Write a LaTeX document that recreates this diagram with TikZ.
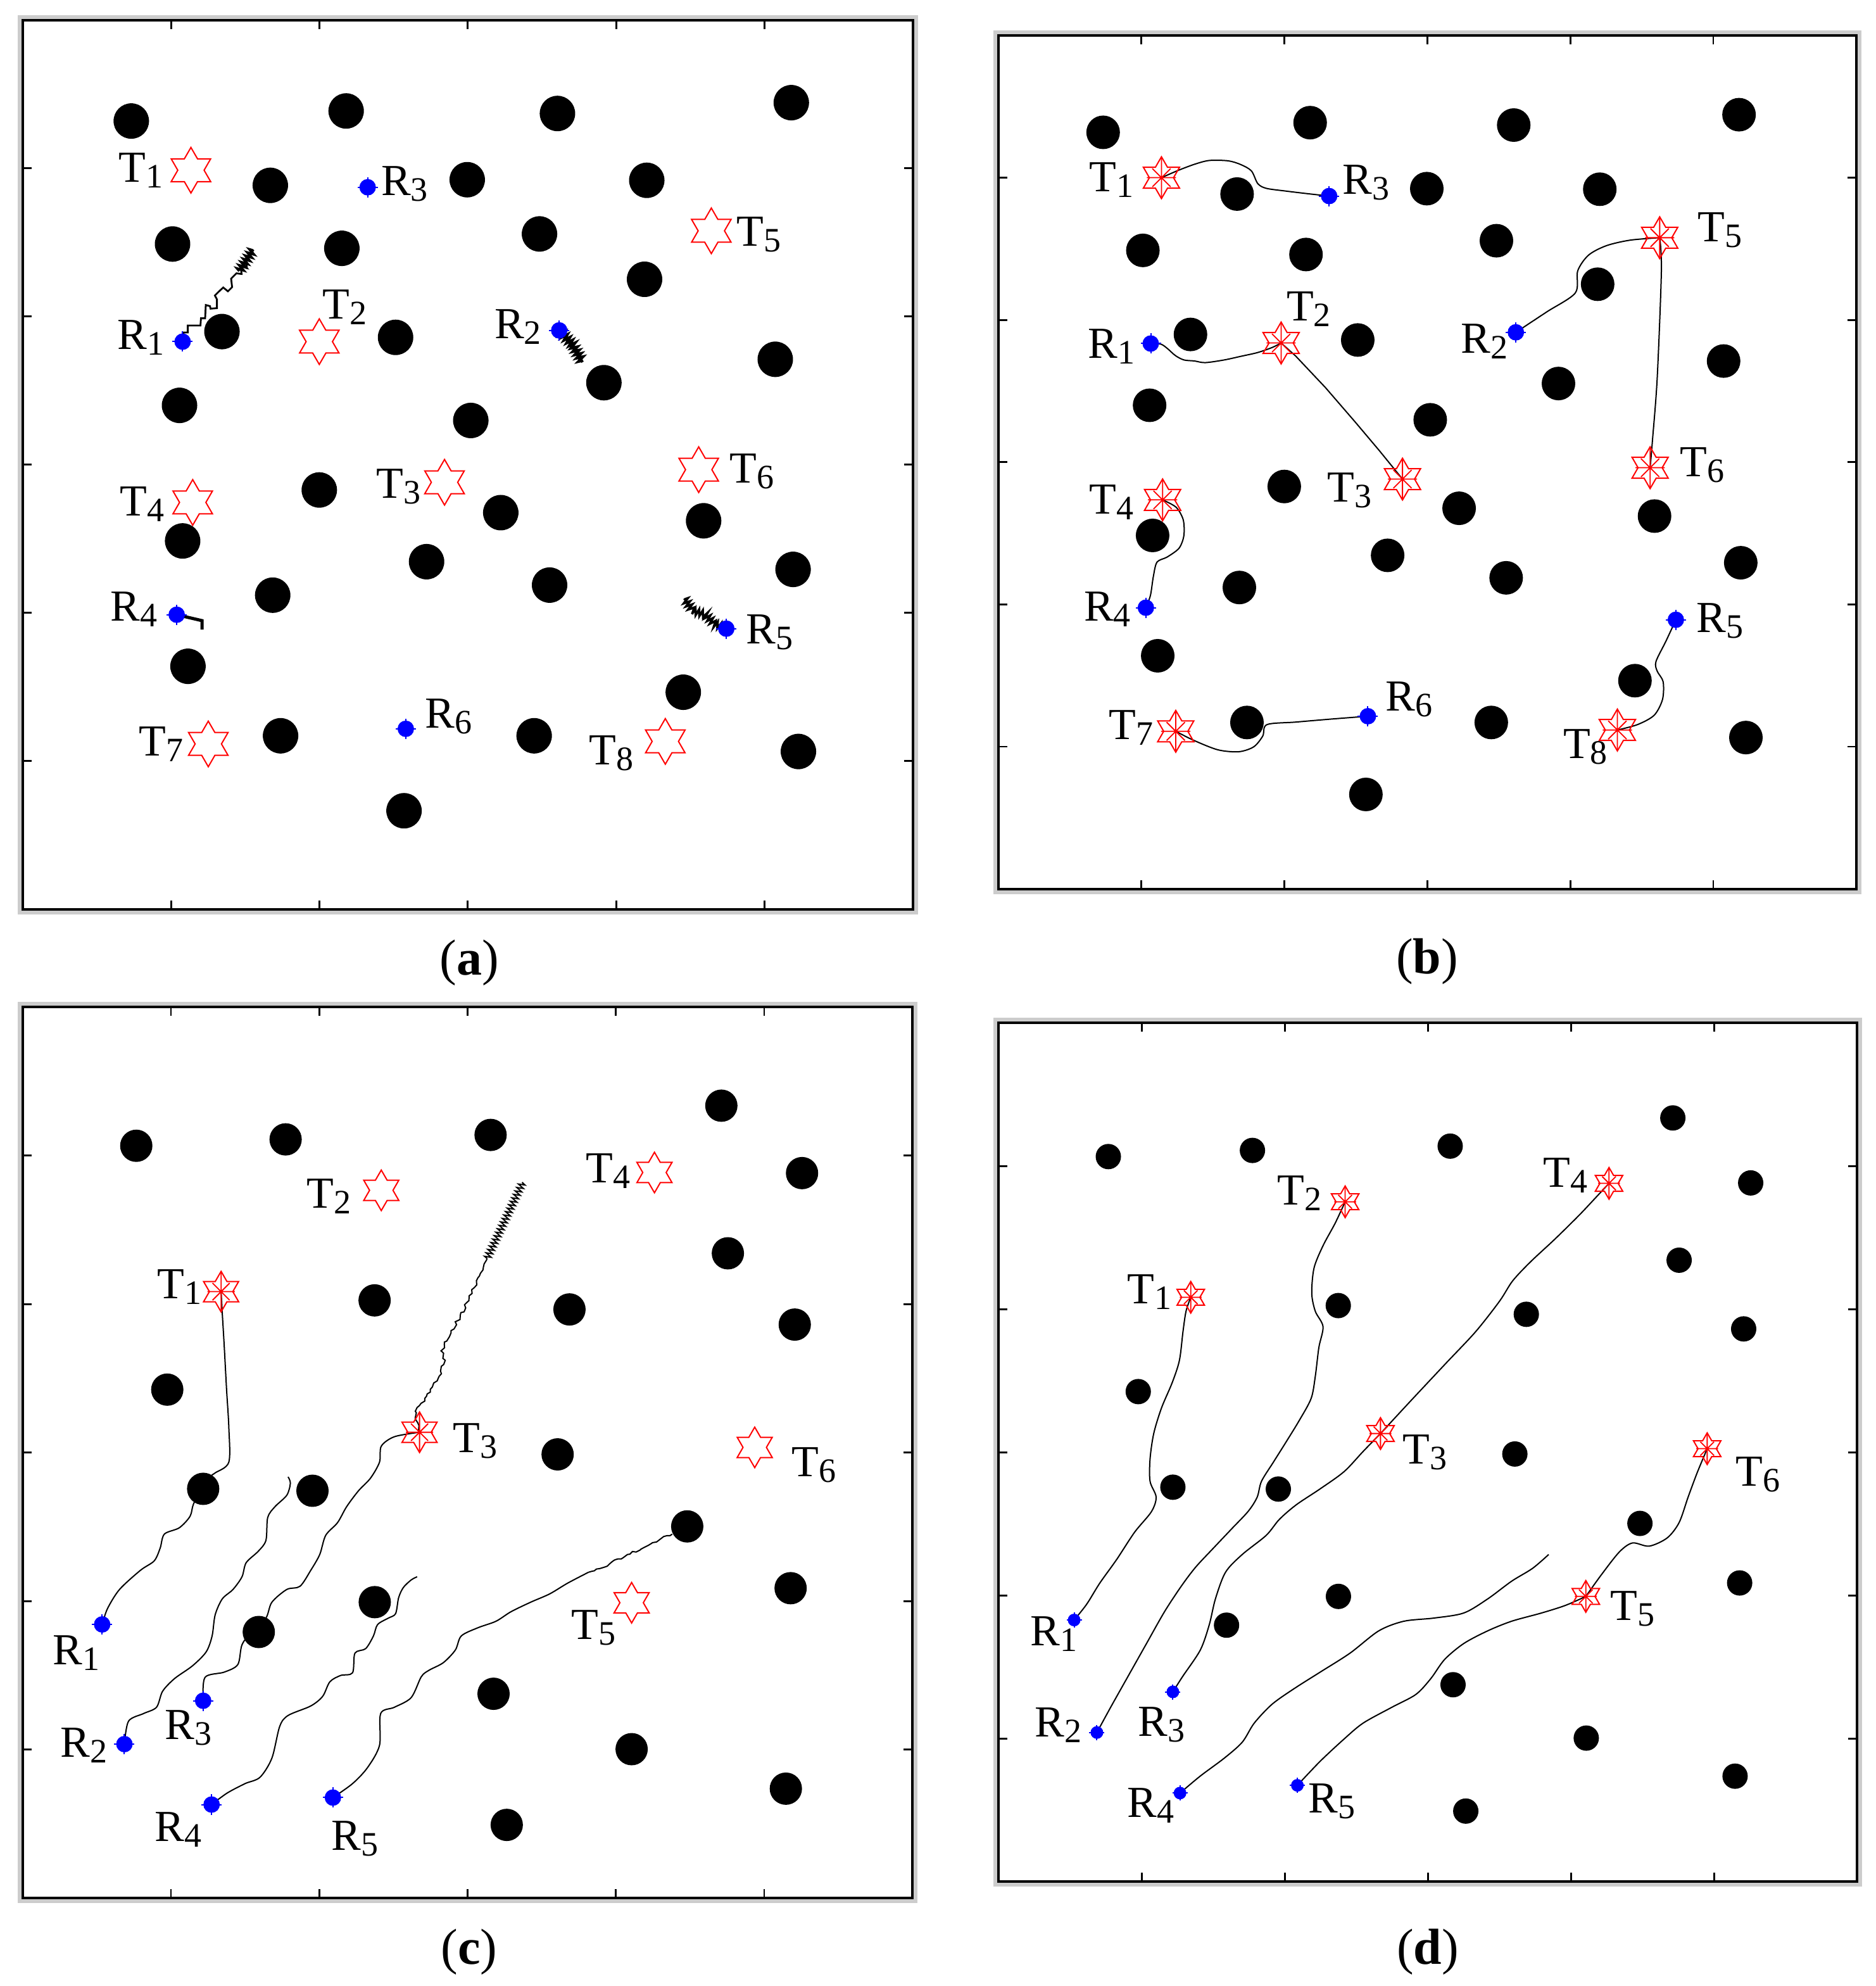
\documentclass[tikz,border=0pt]{standalone}
\usepackage{fontspec}
\setmainfont{Liberation Serif}
\usetikzlibrary{shapes.geometric,decorations.pathmorphing}
\pgfdeclarelayer{bg}
\pgfsetlayers{bg,main}
\newcommand\TS[2]{#1\raisebox{-4.5pt}{\fontsize{27}{27}\selectfont #2}}
\newcommand\astk[2]{%
 \draw[red,line width=0.9pt] ([yshift=#2*1pt]#1.center) -- ([yshift=-#2*1pt]#1.center)
   ([xshift=0.72*#2*1pt]#1.center) -- ([xshift=-0.72*#2*1pt]#1.center)
   ([shift={(0.45*#2*1pt,0.45*#2*1pt)}]#1.center) -- ([shift={(-0.45*#2*1pt,-0.45*#2*1pt)}]#1.center)
   ([shift={(-0.45*#2*1pt,0.45*#2*1pt)}]#1.center) -- ([shift={(0.45*#2*1pt,-0.45*#2*1pt)}]#1.center);}
\newcommand\spk[2]{%
 \draw[blue,line width=1pt] ([yshift=#2*1pt]#1.center) -- ([yshift=-#2*1pt]#1.center)
   ([xshift=#2*1pt]#1.center) -- ([xshift=-#2*1pt]#1.center);}
\tikzset{
 obs/.style={circle, fill=black, inner sep=0pt, minimum size=#1},
 tgt/.style={star, star points=6, star point ratio=1.732, draw=red, line width=1pt, inner sep=0pt, minimum size=#1},
 rob/.style={circle, fill=blue, inner sep=0pt, minimum size=#1},
 trail/.style={draw=black, line width=1pt},
 jag/.style={draw=black, line width=#1, decorate, decoration={zigzag, amplitude=2.5pt, segment length=3pt}},
 rnd/.style={draw=black, line width=1pt, decorate, decoration={random steps, amplitude=#1, segment length=2.5pt}},
 lab/.style={inner sep=0pt, font=\fontsize{35}{40}\selectfont},
 captxt/.style={inner sep=0pt, font=\fontsize{40}{48}\selectfont},
 frm/.style={draw=black, line width=2pt},
 tickmk/.style={draw=black, line width=1.4pt},
}
\newcommand\panelframe{%
 \begin{pgfonlayer}{bg}
 \draw[black!20, line width=8pt] (0,0) rectangle (6,6);
 \fill[white] (0,0) rectangle (6,6);
 \draw[frm] (0,0) rectangle (6,6);
 \foreach \k in {1,...,5}{
   \draw[tickmk] (\k,0) -- ++(0pt,-7pt);
   \draw[tickmk] (\k,6) -- ++(0pt,7pt);
   \draw[tickmk] (0,\k) -- ++(7pt,0pt);
   \draw[tickmk] (6,\k) -- ++(-7pt,0pt);}
 \end{pgfonlayer}}
\def\obsAB{0.732/0.681, 2.180/0.613, 3.604/0.630, 5.180/0.557, 1.669/1.115, 2.996/1.077, 4.206/1.081, 1.010/1.511, 2.151/1.540, 3.483/1.443, 4.191/1.749, 1.343/2.102, 2.513/2.141, 3.917/2.447, 5.072/2.289, 1.057/2.600, 3.020/2.702, 1.999/3.171, 3.222/3.324, 4.589/3.379, 1.078/3.515, 2.722/3.655, 1.685/3.881, 3.551/3.813, 5.192/3.707, 1.114/4.361, 4.452/4.536, 1.738/4.830, 3.447/4.830, 5.228/4.936, 2.570/5.336}
\def\obsCD{0.766/0.934, 1.773/0.891, 3.155/0.861, 4.711/0.664, 5.255/1.118, 4.755/1.658, 2.373/1.975, 3.687/2.036, 5.206/2.138, 0.975/2.576, 3.607/3.012, 1.217/3.244, 1.954/3.257, 4.481/3.497, 5.178/3.913, 2.374/4.007, 1.592/4.208, 3.175/4.624, 4.106/4.997, 5.146/5.263, 3.264/5.507}
\begin{document}
\begin{tikzpicture}[x=1pt,y=-1pt]
\pgfmathsetseed{7}
\useasboundingbox (0,0) rectangle (1481,1568);
\begin{pgfonlayer}{bg}
\fill[white] (0,0) rectangle (1481,1568);
\end{pgfonlayer}

% ---------------- panel (a)
\begin{scope}[shift={(17.9pt,-15.9pt)}, x=117.18pt, y=-116.98pt]
\panelframe
\foreach \u/\v [count=\i] in \obsAB {\node[obs=28pt] (aO\i) at (\u,\v) {};}
\node[tgt=36pt] (aT1) at (1.134,1.013) {};
\node[tgt=36pt] (aT2) at (1.999,2.170) {};
\node[tgt=36pt] (aT3) at (2.843,3.119) {};
\node[tgt=36pt] (aT4) at (1.146,3.255) {};
\node[tgt=36pt] (aT5) at (4.641,1.422) {};
\node[tgt=36pt] (aT6) at (4.556,3.034) {};
\node[tgt=36pt] (aT7) at (1.251,4.885) {};
\node[tgt=36pt] (aT8) at (4.331,4.868) {};
\node[rob=13pt] (aR1) at (1.078,2.170) {};
\node[rob=13pt] (aR2) at (3.616,2.094) {};
\node[rob=13pt] (aR3) at (2.325,1.128) {};
\node[rob=13pt] (aR4) at (1.038,4.013) {};
\node[rob=13pt] (aR5) at (4.742,4.107) {};
\node[rob=13pt] (aR6) at (2.582,4.783) {};
\end{scope}
\foreach \n in {aR1,aR2,aR3,aR4,aR5,aR6}{\spk{\n}{8}}
\begin{pgfonlayer}{bg}
\draw[trail, line width=1.4pt] (aR1.center) -- (145,262.5) -- (148.3,262.5) -- (148.3,257) -- (158.3,257) -- (158.7,251.3) -- (162,251.3) -- (162.5,240.8) -- (165.8,241.7) -- (166.3,243.7) -- (171.3,243.3) -- (171.3,236.3) -- (169.7,233.3) -- (173,230) -- (176.3,227) -- (180,230) -- (183.3,226.7) -- (182.5,220) -- (186.7,215.8) -- (190.8,216.3) -- (190,210) -- (195,211.7) -- (194.2,204.2) -- (199.2,197.5);
\draw[jag=2pt] (189,214) -- (200,197);
\draw[jag=2.2pt] (aR2.center) -- (452,272) -- (460,286);
\draw[trail, line width=2.5pt] (aR4.center) -- (159.5,490) -- (159.5,497);
\draw[jag=1.8pt] (aR5.center) -- (563.9,492.5) -- (556.8,485) -- (547.4,482.5) -- (540.3,472.5);
\end{pgfonlayer}
\node[lab] (aLT1) at (111.2,134.4) {\TS{T}{1}};
\node[lab] (aLR3) at (319.5,145.3) {\TS{R}{3}};
\node[lab] (aLT5) at (599.4,185.2) {\TS{T}{5}};
\node[lab] (aLT2) at (272.4,242.4) {\TS{T}{2}};
\node[lab] (aLR1) at (111.2,266.3) {\TS{R}{1}};
\node[lab] (aLR2) at (409,257.8) {\TS{R}{2}};
\node[lab] (aLT6) at (593.8,372.3) {\TS{T}{6}};
\node[lab] (aLT4) at (112.2,398.2) {\TS{T}{4}};
\node[lab] (aLT3) at (314.8,384.3) {\TS{T}{3}};
\node[lab] (aLR4) at (105.6,480.8) {\TS{R}{4}};
\node[lab] (aLR5) at (607.9,499.3) {\TS{R}{5}};
\node[lab] (aLR6) at (354.4,565.5) {\TS{R}{6}};
\node[lab] (aLT7) at (127.2,587.4) {\TS{T}{7}};
\node[lab] (aLT8) at (482.6,594.8) {\TS{T}{8}};
\node[captxt] (capa) at (370.5,760) {(\textbf{a})};

% ---------------- panel (b)
\begin{scope}[shift={(788.5pt,-28pt)}, x=112.9pt, y=-112.3pt]
\panelframe
\foreach \u/\v [count=\i] in \obsAB {\node[obs=26.5pt] (bO\i) at (\u,\v) {};}
\node[tgt=33pt] (bT1) at (1.140,1.000) {};
\node[tgt=33pt] (bT2) at (1.977,2.162) {};
\node[tgt=33pt] (bT3) at (2.826,3.119) {};
\node[tgt=33pt] (bT4) at (1.148,3.265) {};
\node[tgt=33pt] (bT5) at (4.625,1.422) {};
\node[tgt=33pt] (bT6) at (4.558,3.039) {};
\node[tgt=33pt] (bT7) at (1.240,4.892) {};
\node[tgt=33pt] (bT8) at (4.329,4.883) {};
\node[rob=13pt] (bR1) at (1.065,2.166) {};
\node[rob=13pt] (bR2) at (3.619,2.087) {};
\node[rob=13pt] (bR3) at (2.313,1.129) {};
\node[rob=13pt] (bR4) at (1.031,4.023) {};
\node[rob=13pt] (bR5) at (4.738,4.108) {};
\node[rob=13pt] (bR6) at (2.584,4.786) {};
\end{scope}
\foreach \n in {bT1,bT2,bT3,bT4,bT5,bT6,bT7,bT8}{\astk{\n}{16}}
\foreach \n in {bR1,bR2,bR3,bR4,bR5,bR6}{\spk{\n}{8}}
\begin{pgfonlayer}{bg}
\draw[trail] plot[smooth] coordinates {(bT1.center) (930,134.7) (943.3,129.7) (955,126.7) (970,127) (980,130) (988.3,135) (993.3,145) (1000,148.7) (1015,150.8) (1033.3,153) (bR3.center)};
\draw[trail] plot[smooth] coordinates {(bR1.center) (916.7,271.7) (921.7,275) (928.3,280.8) (935,284.2) (943.3,285) (951.7,286.3) (966.7,284.2) (980,281.3) (993.3,278.3) (1005,274.2) (bT2.center)};
\draw[trail] (bT2.center) -- (1023.2,281.1) -- (1046.7,306) -- (1070.3,333.3) -- (1089.2,355.7) -- (bT3.center);
\draw[trail] plot[smooth] coordinates {(bR2.center) (1221.4,246.3) (1244,231.3) (1245.9,213.9) (1254.4,201.5) (1268.5,194) (1287.4,189.6) (bT5.center)};
\draw[trail] plot[smooth] coordinates {(bT5.center) (1312,213.9) (1308.7,298.5) (1304.9,348.3) (bT6.center)};
\draw[trail] plot[smooth] coordinates {(bT4.center) (928.8,400.5) (934.4,410.4) (934.9,422.9) (931.1,432.8) (921.7,439.8) (913.7,443.8) (910.8,455.2) (908.5,470.1) (bR4.center)};
\draw[trail] plot[smooth] coordinates {(bT7.center) (942.9,584.6) (961.8,592) (978.3,593.5) (990.1,589.6) (997.2,581.1) (1000.5,572.1) (1023.2,570.1) (1051.5,567.7) (bR6.center)};
\draw[trail] plot[smooth] coordinates {(bR5.center) (1315.7,506) (1307.7,522.4) (1308.7,529.9) (1313.4,538.3) (1312.9,552.2) (1306.3,564.7) (1293.1,572.1) (bT8.center)};
\end{pgfonlayer}
\node[lab] (bLT1) at (877.8,141.8) {\TS{T}{1}};
\node[lab] (bLR3) at (1078.8,144.3) {\TS{R}{3}};
\node[lab] (bLT5) at (1358.2,181.6) {\TS{T}{5}};
\node[lab] (bLT2) at (1033.5,243.8) {\TS{T}{2}};
\node[lab] (bLR1) at (877.8,273.6) {\TS{R}{1}};
\node[lab] (bLR2) at (1172.3,269.7) {\TS{R}{2}};
\node[lab] (bLT6) at (1344.1,367.2) {\TS{T}{6}};
\node[lab] (bLT3) at (1065.6,387.1) {\TS{T}{3}};
\node[lab] (bLT4) at (877.8,396.5) {\TS{T}{4}};
\node[lab] (bLR4) at (874.5,481.1) {\TS{R}{4}};
\node[lab] (bLR5) at (1358.2,490.0) {\TS{R}{5}};
\node[lab] (bLR6) at (1112.8,552.2) {\TS{R}{6}};
\node[lab] (bLT7) at (893.4,574.6) {\TS{T}{7}};
\node[lab] (bLT8) at (1252.0,589.6) {\TS{T}{8}};
\node[captxt] (capb) at (1127,759) {(\textbf{b})};

% ---------------- panel (c)
\begin{scope}[shift={(17.9pt,-795.1pt)}, x=117.12pt, y=-117.25pt]
\panelframe
\foreach \u/\v [count=\i] in \obsCD {\node[obs=25.5pt] (cO\i) at (\u,\v) {};}
\node[tgt=32pt] (cT1) at (1.338,1.916) {};
\node[tgt=32pt] (cT2) at (2.418,1.234) {};
\node[tgt=32pt] (cT3) at (2.676,2.863) {};
\node[tgt=32pt] (cT4) at (4.260,1.114) {};
\node[tgt=32pt] (cT5) at (4.106,4.011) {};
\node[tgt=32pt] (cT6) at (4.936,2.965) {};
\node[rob=13pt] (cR1) at (0.536,4.157) {};
\node[rob=13pt] (cR2) at (0.686,4.963) {};
\node[rob=13pt] (cR3) at (1.217,4.671) {};
\node[rob=13pt] (cR4) at (1.274,5.370) {};
\node[rob=13pt] (cR5) at (2.092,5.323) {};
\end{scope}
\foreach \n in {cT1,cT3}{\astk{\n}{15}}
\foreach \n in {cR1,cR2,cR3,cR4,cR5}{\spk{\n}{8}}
\coordinate (cE2) at (227.5,1166);
\coordinate (cE3a) at (384.6,993.6);
\coordinate (cE3) at (412.9,933.3);
\coordinate (cE4) at (329.4,1244.9);
\coordinate (cE5a) at (464.8,1241.3);
\coordinate (cE5) at (530.9,1211.2);
\begin{pgfonlayer}{bg}
\draw[trail] plot[smooth] coordinates {(cR1.center) (84.9,1270) (94.4,1254.9) (110.9,1239.8) (121.8,1232.3) (126.5,1222.2) (129.8,1211.2) (141.6,1206.2) (150.1,1197.1) (153.4,1186.1) (165.2,1167) (169.9,1162.9) (180.7,1154.4) (180.7,1126.8) (178.9,1096.6) (177,1061.4) (175.5,1036.3) (cT1.center)};
\draw[trail] plot[smooth] coordinates {(cR2.center) (101.5,1358.9) (113.3,1352.9) (123.6,1347.9) (128.4,1335.3) (137.8,1325.3) (152,1315.2) (162.8,1304.2) (167.5,1291.6) (169.9,1275) (175.5,1262.4) (184,1254.9) (191.1,1244.9) (194.4,1233.8) (203.9,1224.8) (210,1216.2) (211.4,1198.1) (217.1,1189.6) (226.5,1180.5) (229.3,1171) (cE2)};
\draw[trail] plot[smooth] coordinates {(cR3.center) (161.9,1324.3) (177,1320.2) (187.8,1314.2) (191.1,1298.6) (199.1,1287.6) (210,1277.5) (214.7,1265) (226.5,1254.9) (236.9,1252.4) (245.4,1239.8) (252.5,1227.3) (257.2,1212.2) (266.6,1202.1) (273.7,1189.6) (283.1,1177) (292.6,1167) (299.7,1154.4) (301.1,1141.8) (311.5,1134.3) (cT3.center)};
\draw[rnd=1.3pt] (cT3.center) -- (328,1114.2) -- (339.8,1099.1) -- (346.8,1086.6) -- (351.6,1074) -- (348.3,1066.5) -- (354.9,1055.4) -- (363.4,1038.8) -- (372.8,1021.2) -- (377.5,1008.7) -- (cE3a);
\draw[jag=1pt] (cE3a) -- (cE3);
\draw[trail] plot[smooth] coordinates {(cR4.center) (179.3,1415.7) (193.5,1408.2) (205.3,1403.2) (214.7,1388.1) (220.9,1363) (227.5,1354.4) (245.4,1346.9) (254.8,1339.3) (260.5,1327.8) (269,1322.8) (278.4,1320.7) (280.3,1305.2) (288.8,1301.6) (294.9,1291.6) (298.2,1282.6) (306.7,1277.5) (312.4,1274) (314.8,1261.4) (318.5,1253.4) (324.7,1247.4) (cE4)};
\draw[trail] plot[smooth] coordinates {(cR5.center) (278.4,1408.2) (290.2,1395.6) (299.7,1378) (300.6,1352.9) (311.5,1347.9) (324.7,1340.3) (332.7,1323.8) (338.8,1318.7) (350.1,1312.7) (359.6,1302.7) (364.3,1291.6) (377.5,1285.1) (391.7,1280) (403.5,1272.5) (419,1265) (434.1,1258.4) (448.3,1249.9) (cE5a)};
\draw[rnd=1pt] (cE5a) -- (481.3,1234.8) -- (495.5,1227.3) -- (509.7,1221.2) -- (521.4,1215.2) -- (cE5);
\end{pgfonlayer}
\node[lab] (cLT1) at (141.6,1016.2) {\TS{T}{1}};
\node[lab] (cLT2) at (259.6,944.3) {\TS{T}{2}};
\node[lab] (cLT3) at (375.2,1137.8) {\TS{T}{3}};
\node[lab] (cLT4) at (480.4,924.7) {\TS{T}{4}};
\node[lab] (cLT5) at (468.6,1285.0) {\TS{T}{5}};
\node[lab] (cLT6) at (642.8,1156.9) {\TS{T}{6}};
\node[lab] (cLR1) at (60.4,1305.1) {\TS{R}{1}};
\node[lab] (cLR2) at (66.1,1378.0) {\TS{R}{2}};
\node[lab] (cLR3) at (148.7,1364.4) {\TS{R}{3}};
\node[lab] (cLR4) at (140.6,1444.3) {\TS{R}{4}};
\node[lab] (cLR5) at (280.3,1451.9) {\TS{R}{5}};
\node[captxt] (capc) at (370.5,1541) {(\textbf{c})};

% ---------------- panel (d)
\begin{scope}[shift={(788.7pt,-807.6pt)}, x=113pt, y=-113pt]
\panelframe
\foreach \u/\v [count=\i] in \obsCD {\node[obs=20pt] (dO\i) at (\u,\v) {};}
\node[tgt=25pt] (dT1) at (1.342,1.917) {};
\node[tgt=25pt] (dT2) at (2.421,1.250) {};
\node[tgt=25pt] (dT3) at (2.668,2.869) {};
\node[tgt=25pt] (dT4) at (4.265,1.121) {};
\node[tgt=25pt] (dT5) at (4.103,4.007) {};
\node[tgt=25pt] (dT6) at (4.951,2.975) {};
\node[rob=10pt] (dR1) at (0.527,4.172) {};
\node[rob=10pt] (dR2) at (0.686,4.958) {};
\node[rob=10pt] (dR3) at (1.217,4.674) {};
\node[rob=10pt] (dR4) at (1.267,5.381) {};
\node[rob=10pt] (dR5) at (2.087,5.327) {};
\end{scope}
\foreach \n in {dT1,dT2,dT3,dT4,dT5,dT6}{\astk{\n}{12}}
\foreach \n in {dR1,dR2,dR3,dR4,dR5}{\spk{\n}{6}}
\coordinate (dE4) at (1223,1227.3);
\begin{pgfonlayer}{bg}
\draw[trail] plot[smooth] coordinates {(dR1.center) (858.2,1266.5) (868.5,1249.9) (881.8,1231.3) (896,1209.7) (909.2,1193.6) (913,1182) (908.2,1169.5) (908.2,1151.9) (911.1,1131.8) (917.2,1111.7) (925.7,1091.6) (931.4,1074) (934.2,1051.4) (936.6,1035.3) (dT1.center)};
\draw[trail] plot[smooth] coordinates {(dR2.center) (877.1,1347.9) (891.2,1322.8) (905.4,1297.6) (919.6,1272.5) (932.8,1252.4) (944.2,1237.3) (958.3,1222.2) (972.5,1207.2) (985.8,1193.1) (992.8,1182) (996.2,1169.5) (1005.6,1154.4) (1015.1,1139.3) (1025.9,1121.7) (1035.4,1104.1) (1038.7,1086.6) (1041.5,1063.9) (1044.8,1047.4) (1038.7,1035.3) (1035.9,1021.2) (1037.7,1001.1) (1044.8,983.5) (1054.3,965.9) (dT2.center)};
\draw[trail] plot[smooth] coordinates {(dR3.center) (933.8,1323.8) (947.9,1302.7) (955,1282.6) (959.8,1262.4) (967.8,1241.3) (981,1227.3) (999.9,1212.2) (1010.3,1199.6) (1023.6,1188.1) (1042.5,1175.5) (1061.4,1161.9) (1076.5,1145.9) (dT3.center)};
\draw[trail] plot[smooth] coordinates {(dT3.center) (1113.4,1106.7) (1141.7,1076.5) (1165.3,1051.4) (1184.2,1027.3) (1194.6,1011.2) (1208.8,996.1) (1227.7,978.5) (1246.6,959.9) (1259.9,945.8) (dT4.center)};
\draw[trail] plot[smooth] coordinates {(dR4.center) (947.9,1402.2) (966.8,1388.1) (981,1375.5) (990.5,1360.4) (1004.7,1345.4) (1022.6,1332.8) (1042.5,1320.2) (1066.1,1305.2) (1088.8,1287.6) (1108.6,1280) (1132.3,1277.5) (1155.9,1273.5) (1174.8,1262.4) (1193.7,1248.4) (1210.2,1238.3) (dE4)};
\draw[trail] plot[smooth] coordinates {(dR5.center) (1042.5,1390.6) (1061.4,1373) (1076.5,1360.4) (1099.2,1347.9) (1118.1,1337.8) (1129.9,1325.3) (1140.8,1310.2) (1155.9,1297.6) (1174.8,1287.6) (1193.7,1280) (1217.3,1273.5) (1236.2,1267.5) (dT5.center)};
\draw[trail] plot[smooth] coordinates {(dT5.center) (1264.6,1243.3) (1278.8,1225.3) (1289.2,1218.2) (1302.4,1220.7) (1316.6,1214.2) (1326,1202.1) (1333.1,1182) (1340.2,1162.9) (dT6.center)};
\end{pgfonlayer}
\node[lab] (dLT1) at (907.8,1020.2) {\TS{T}{1}};
\node[lab] (dLT2) at (1026.4,941.8) {\TS{T}{2}};
\node[lab] (dLT3) at (1125.2,1146.8) {\TS{T}{3}};
\node[lab] (dLT4) at (1236.2,928.2) {\TS{T}{4}};
\node[lab] (dLT5) at (1289.1,1270.0) {\TS{T}{5}};
\node[lab] (dLT6) at (1388.4,1164.4) {\TS{T}{6}};
\node[lab] (dLR1) at (832.2,1290.1) {\TS{R}{1}};
\node[lab] (dLR2) at (835.9,1361.9) {\TS{R}{2}};
\node[lab] (dLR3) at (917.2,1361.9) {\TS{R}{3}};
\node[lab] (dLR4) at (908.7,1425.7) {\TS{R}{4}};
\node[lab] (dLR5) at (1051.9,1422.2) {\TS{R}{5}};
\node[captxt] (capd) at (1127.5,1541) {(\textbf{d})};
\end{tikzpicture}
\end{document}
